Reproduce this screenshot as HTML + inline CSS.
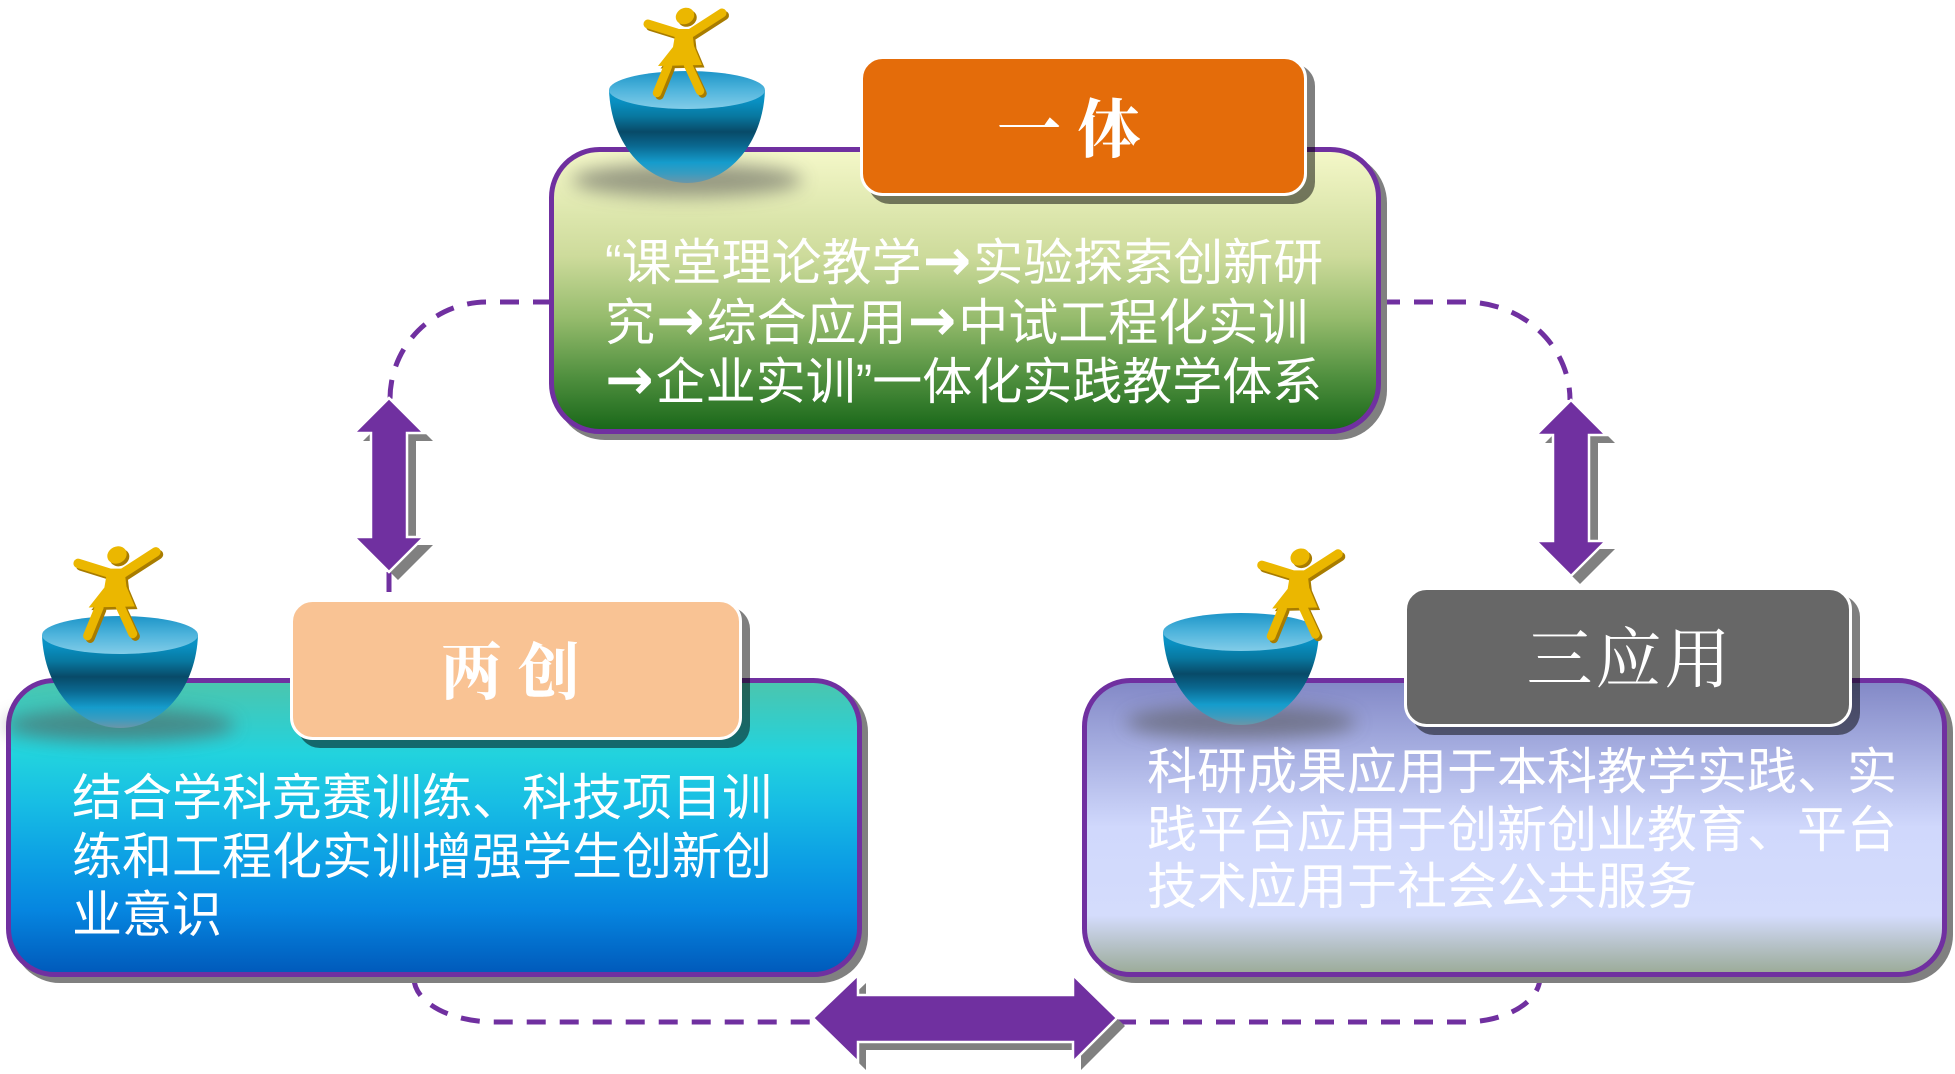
<!DOCTYPE html>
<html>
<head>
<meta charset="utf-8">
<style>
  html, body { margin: 0; padding: 0; background: #ffffff; }
  body { width: 1955px; height: 1074px; overflow: hidden; }
  svg { display: block; }
  .body { font-family: "Liberation Sans", "Noto Sans CJK SC", sans-serif; font-size: 50px; fill: #ffffff; }
  .arr { font-family: "DejaVu Sans", sans-serif; font-weight: bold; font-size: 58px; }
  .lbl { font-family: "Liberation Serif", "Noto Serif CJK SC", serif; fill: #ffffff; }
</style>
</head>
<body>
<svg width="1955" height="1074" viewBox="0 0 1955 1074" xmlns="http://www.w3.org/2000/svg">
  <defs>
    <linearGradient id="gTop" x1="0" y1="0" x2="0" y2="1">
      <stop offset="0" stop-color="#f5f8c9"/>
      <stop offset="0.38" stop-color="#cddb9b"/>
      <stop offset="0.6" stop-color="#95bb6c"/>
      <stop offset="0.8" stop-color="#529140"/>
      <stop offset="1" stop-color="#176618"/>
    </linearGradient>
    <linearGradient id="gLeft" x1="0" y1="0" x2="0" y2="1">
      <stop offset="0" stop-color="#4cc5ad"/>
      <stop offset="0.25" stop-color="#22d3de"/>
      <stop offset="0.42" stop-color="#17bde4"/>
      <stop offset="0.62" stop-color="#0c9ee4"/>
      <stop offset="0.78" stop-color="#0686e0"/>
      <stop offset="1" stop-color="#0059ba"/>
    </linearGradient>
    <linearGradient id="gRight" x1="0" y1="0" x2="0" y2="1">
      <stop offset="0" stop-color="#8288c6"/>
      <stop offset="0.25" stop-color="#a8b0e2"/>
      <stop offset="0.5" stop-color="#d0d8fc"/>
      <stop offset="0.8" stop-color="#d4dcfc"/>
      <stop offset="0.9" stop-color="#b6c2c8"/>
      <stop offset="1" stop-color="#9aaa96"/>
    </linearGradient>
    <linearGradient id="gBowl" x1="0" y1="0" x2="0" y2="1">
      <stop offset="0" stop-color="#0b95c8"/>
      <stop offset="0.12" stop-color="#0990c2"/>
      <stop offset="0.28" stop-color="#0878a0"/>
      <stop offset="0.45" stop-color="#084a68"/>
      <stop offset="0.6" stop-color="#0a6890"/>
      <stop offset="0.78" stop-color="#159ccc"/>
      <stop offset="0.9" stop-color="#3a9cc0"/>
      <stop offset="1" stop-color="#6a96a8"/>
    </linearGradient>
    <linearGradient id="gBowlTop" x1="0" y1="0" x2="0" y2="1">
      <stop offset="0" stop-color="#1d95c8"/>
      <stop offset="0.5" stop-color="#4fb4dc"/>
      <stop offset="1" stop-color="#82cce8"/>
    </linearGradient>
    <filter id="blur" x="-50%" y="-100%" width="200%" height="300%">
      <feGaussianBlur stdDeviation="9"/>
    </filter>

    <g id="bowl">
      <ellipse cx="0" cy="90" rx="115" ry="17" fill="#555555" opacity="0.55" filter="url(#blur)"/>
      <path d="M-78 0 C -76 55, -40 93, 0 93 C 40 93, 76 55, 78 0 Z" fill="url(#gBowl)"/>
      <ellipse cx="0" cy="0" rx="78" ry="19" fill="url(#gBowlTop)"/>
    </g>

    <g id="figShape">
      <ellipse cx="0" cy="0" rx="9.5" ry="8" transform="rotate(-25)" stroke="none"/>
      <path d="M-8 17 L-37 8" stroke-width="9" stroke-linecap="round" fill="none"/>
      <path d="M6 17 L37 -3" stroke-width="9" stroke-linecap="round" fill="none"/>
      <path d="M-9 13 L7 13 L9 30 L17 49 L-27 50 L-12 31 Z" stroke="none"/>
      <path d="M-17 50 L-28 77" stroke-width="8.5" stroke-linecap="round" fill="none"/>
      <path d="M3 49 L15 75" stroke-width="8.5" stroke-linecap="round" fill="none"/>
    </g>
    <g id="fig">
      <use href="#figShape" transform="translate(2.5,2.5)" fill="#a87c00" stroke="#a87c00"/>
      <use href="#figShape" fill="#ebb700" stroke="#ebb700"/>
    </g>
  </defs>

  <!-- dashed connectors -->
  <g fill="none" stroke="#7030a0" stroke-width="5" stroke-dasharray="19 14">
    <path d="M552 302 H487 A97 97 0 0 0 390 399"/>
    <path d="M1381 302 H1465 A105 98 0 0 1 1570 400"/>
    <path d="M414 978 A81 44 0 0 0 495 1022 H813"/>
    <path d="M1117 1022 H1464 A76 45 0 0 0 1540 977"/>
  </g>
  <line x1="389" y1="572" x2="389" y2="592" stroke="#7030a0" stroke-width="5"/>

  <!-- main boxes: shadows -->
  <rect x="555" y="153" width="832" height="287" rx="50" fill="#808080"/>
  <rect x="12" y="684" width="856" height="299" rx="48" fill="#808080"/>
  <rect x="1088" y="684" width="865" height="299" rx="48" fill="#808080"/>

  <!-- main boxes -->
  <rect x="551.5" y="149.5" width="827" height="282" rx="48" fill="url(#gTop)" stroke="#7030a0" stroke-width="5"/>
  <rect x="8.5" y="680.5" width="851" height="294" rx="46" fill="url(#gLeft)" stroke="#7030a0" stroke-width="5"/>
  <rect x="1084.5" y="680.5" width="860" height="294" rx="46" fill="url(#gRight)" stroke="#7030a0" stroke-width="5"/>

  <!-- arrows -->
  <g>
    <polygon transform="translate(9,8)" fill="#808080" points="389,398 424,433 407,433 407,537 424,537 389,572 354,537 371,537 371,433 354,433"/>
    <polygon fill="#7030a0" stroke="#ffffff" stroke-width="2.5" stroke-linejoin="miter" points="389,398 424,433 407,433 407,537 424,537 389,572 354,537 371,537 371,433 354,433"/>

    <polygon transform="translate(9,8)" fill="#808080" points="1571,400 1606,435 1589,435 1589,541 1606,541 1571,576 1536,541 1553,541 1553,435 1536,435"/>
    <polygon fill="#7030a0" stroke="#ffffff" stroke-width="2.5" points="1571,400 1606,435 1589,435 1589,541 1606,541 1571,576 1536,541 1553,541 1553,435 1536,435"/>

    <polygon transform="translate(8,8)" fill="#808080" points="813,1018 858,975 858,995 1073,995 1073,975 1117,1018 1073,1062 1073,1042 858,1042 858,1062"/>
    <polygon fill="#7030a0" stroke="#ffffff" stroke-width="2.5" points="813,1018 858,975 858,995 1073,995 1073,975 1117,1018 1073,1062 1073,1042 858,1042 858,1062"/>
  </g>

  <!-- labels: shadows -->
  <rect x="868" y="64" width="447" height="140" rx="22" fill="#000000" opacity="0.5"/>
  <rect x="298" y="607" width="452" height="141" rx="22" fill="#000000" opacity="0.5"/>
  <rect x="1412" y="595" width="448" height="140" rx="22" fill="#000000" opacity="0.5"/>

  <!-- labels -->
  <rect x="861.5" y="57.5" width="444" height="137" rx="21" fill="#e46c0a" stroke="#ffffff" stroke-width="3"/>
  <rect x="291.5" y="600.5" width="449" height="138" rx="21" fill="#f9c394" stroke="#ffffff" stroke-width="3"/>
  <rect x="1405.5" y="588.5" width="445" height="137" rx="21" fill="#676767" stroke="#ffffff" stroke-width="3"/>

  <text class="lbl" x="1069" y="152" font-size="64" font-weight="bold" text-anchor="middle">一 体</text>
  <text class="lbl" x="510" y="694" font-size="62" font-weight="bold" text-anchor="middle">两 创</text>
  <text class="lbl" x="1630" y="682" font-size="66" text-anchor="middle" letter-spacing="3">三应用</text>

  <!-- bowls -->
  <use href="#bowl" transform="translate(687,90)"/>
  <use href="#bowl" transform="translate(120,635)"/>
  <use href="#bowl" transform="translate(1241,632)"/>

  <!-- figures -->
  <use href="#fig" transform="translate(685,16)"/>
  <use href="#fig" transform="translate(117,555) scale(1.05)"/>
  <use href="#fig" transform="translate(1300,557) scale(1.03)"/>

  <!-- top box text -->
  <text class="body" x="605" y="280">“课堂理论教学<tspan class="arr" dx="1">→</tspan><tspan dx="2">实验探索创新研</tspan></text>
  <text class="body" x="605" y="340">究<tspan class="arr" dx="1">→</tspan><tspan dx="2">综合应用</tspan><tspan class="arr" dx="1">→</tspan><tspan dx="2">中试工程化实训</tspan></text>
  <text class="body" x="605" y="399"><tspan class="arr">→</tspan><tspan dx="2">企业实训”一体化实践教学体系</tspan></text>

  <!-- left box text -->
  <text class="body" x="72" y="815">结合学科竞赛训练、科技项目训</text>
  <text class="body" x="72" y="874">练和工程化实训增强学生创新创</text>
  <text class="body" x="72" y="932">业意识</text>

  <!-- right box text -->
  <text class="body" x="1147" y="789">科研成果应用于本科教学实践、实</text>
  <text class="body" x="1147" y="847">践平台应用于创新创业教育、平台</text>
  <text class="body" x="1147" y="904">技术应用于社会公共服务</text>
</svg>
</body>
</html>
